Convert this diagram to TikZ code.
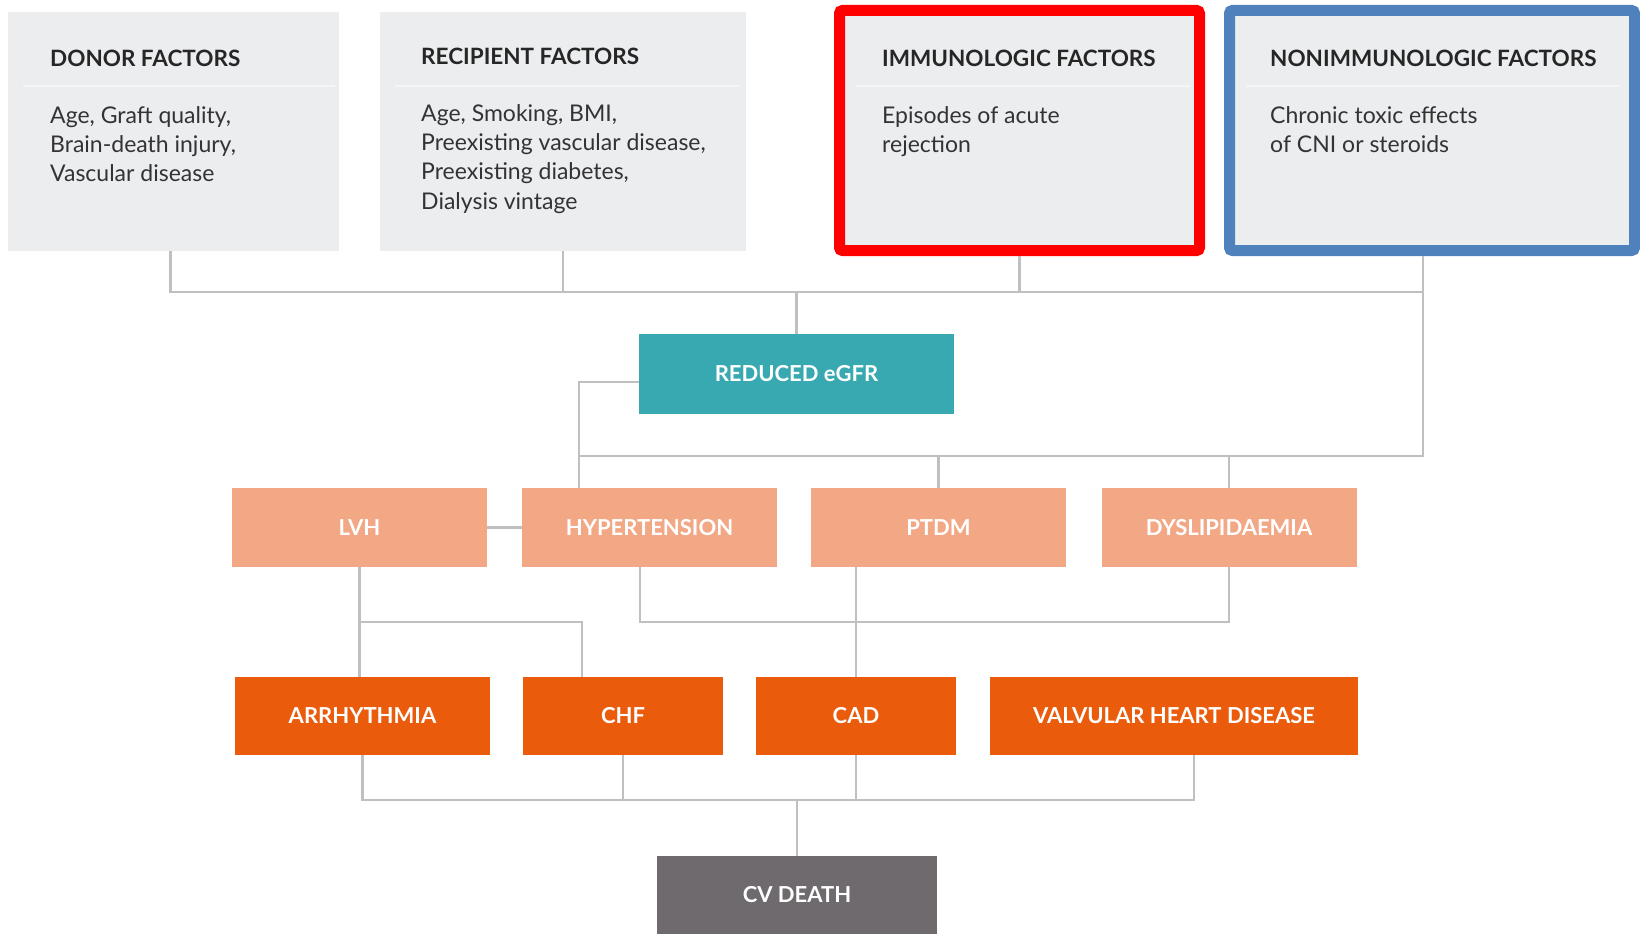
\documentclass[tikz,border=0pt]{standalone}
\usepackage{fontspec}
\setmainfont{Lato}
\usetikzlibrary{positioning, calc}
\definecolor{boxgrey}{RGB}{236,237,239}
\definecolor{sepgrey}{RGB}{245,245,246}
\definecolor{linegrey}{RGB}{192,192,192}
\definecolor{egfrteal}{RGB}{56,169,177}
\definecolor{riskpeach}{RGB}{242,167,133}
\definecolor{cvorange}{RGB}{234,91,12}
\definecolor{deathgrey}{RGB}{111,106,109}
\definecolor{immred}{RGB}{255,0,0}
\definecolor{nonimmblue}{RGB}{79,129,189}

\begin{document}
\begin{tikzpicture}[x=1pt, y=-1pt,
        % --- factor boxes on top ---
        factorbox/.style={
            fill=boxgrey, anchor=north west, inner sep=0pt,
            minimum height=239
        },
        framedbox/.style={
            factorbox, line width=11, rounded corners=3,
            minimum height=240
        },
        factortitle/.style={
            anchor=west, inner sep=0pt, text=black!85,
            font=\bfseries\fontsize{22.5}{25}\selectfont
        },
        factortext/.style={
            anchor=north west, inner sep=0pt, align=left, text=black!80,
            font=\fontsize{23}{29.3}\selectfont
        },
        sepline/.style={draw=sepgrey, line width=1.5},
        % --- coloured boxes ---
        flowbox/.style={
            minimum height=79, inner sep=0pt, text=white,
            font=\bfseries\fontsize{22}{25}\selectfont
        },
        egfrbox/.style={flowbox, fill=egfrteal, minimum height=80},
        riskbox/.style={flowbox, fill=riskpeach, minimum width=255},
        cvbox/.style={flowbox, fill=cvorange, minimum height=78},
        deathbox/.style={flowbox, fill=deathgrey, minimum height=78},
        % --- connectors ---
        conn/.style={draw=linegrey, line width=2.5}
    ]

    \useasboundingbox (0,0) rectangle (1640,934);
    \fill[white] (0,0) rectangle (1640,934);

    % ==========================================
    % FACTORS
    % ==========================================
    \node[factorbox, minimum width=331] (donor) at (8,12) {};
    \node[factorbox, minimum width=366] (recip) at (380,12) {};
    \node[framedbox, draw=immred, minimum width=360] (immuno) at (834,5) {};
    \node[framedbox, draw=nonimmblue, minimum width=405] (nonimm) at (1224,5) {};

    \draw[sepline] (23,86) -- (335,86);
    \draw[sepline] (395,86) -- (740,86);
    \draw[sepline] (856,86) -- (1190,86);
    \draw[sepline] (1246,86) -- (1620,86);

    \node[factortitle] (donortitle) at (50,58) {DONOR FACTORS};
    \node[factortext] (donortext) at (50,106) {Age, Graft quality,\\Brain-death injury,\\Vascular disease};

    \node[factortitle] (reciptitle) at (421,56) {RECIPIENT FACTORS};
    \node[factortext] (reciptext) at (421,104) {Age, Smoking, BMI,\\Preexisting vascular disease,\\Preexisting diabetes,\\Dialysis vintage};

    \node[factortitle] (immunotitle) at (882,58) {IMMUNOLOGIC FACTORS};
    \node[factortext] (immunotext) at (882,106) {Episodes of acute\\rejection};

    \node[factortitle] (nonimmtitle) at (1270,58) {NONIMMUNOLOGIC FACTORS};
    \node[factortext] (nonimmtext) at (1270,106) {Chronic toxic effects\\of CNI or steroids};

    % ==========================================
    % REDUCED eGFR AND RISK FACTORS
    % ==========================================
    \node[egfrbox, minimum width=315] (egfr) at (796.5,374) {REDUCED eGFR};

    \node[riskbox] (lvh) at (359.5,527.5) {LVH};
    \node[riskbox] (hyp) at (649.5,527.5) {HYPERTENSION};
    \node[riskbox] (ptdm) at (938.5,527.5) {PTDM};
    \node[riskbox] (dys) at (1229,527.5) {DYSLIPIDAEMIA};

    % ==========================================
    % CARDIOVASCULAR DISEASE
    % ==========================================
    \node[cvbox, minimum width=255] (arr) at (362.5,716) {ARRHYTHMIA};
    \node[cvbox, minimum width=200] (chf) at (623,716) {CHF};
    \node[cvbox, minimum width=200] (cad) at (856,716) {CAD};
    \node[cvbox, minimum width=368] (val) at (1174,716) {VALVULAR HEART DISEASE};

    \node[deathbox, minimum width=280] (death) at (797,895) {CV DEATH};

    % ==========================================
    % CONNECTORS
    % ==========================================
    \coordinate (topbus) at (797,292);
    \coordinate (riskbus) at (579,456);
    \coordinate (lvhbranch) at (582,622);
    \coordinate (hypbranch) at (640,622);
    \coordinate (deathbus) at (797,800);
    \coordinate (egfrtap) at ($(egfr.west)+(0,8)$);
    \coordinate (donordrop) at ($(donor.south)+(-3,0)$);
    \coordinate (nonimmdrop) at ($(nonimm.south)+(-9,0)$);
    \coordinate (valdrop) at ($(val.south)+(20,0)$);

    \draw[conn] (donordrop) |- (topbus) -| (nonimmdrop);
    \draw[conn] (recip.south) -- (recip.south |- topbus);
    \draw[conn] (immuno.south) -- (immuno.south |- topbus);
    \draw[conn] (egfr.north) -- (egfr.north |- topbus);
    \draw[conn] (nonimmdrop) |- (riskbus);

    \draw[conn] (egfrtap) -| (riskbus) -- (riskbus |- hyp.north);
    \draw[conn] (ptdm.north) -- (ptdm.north |- riskbus);
    \draw[conn] (dys.north) -- (dys.north |- riskbus);
    \draw[conn] (lvh) -- (hyp);

    \draw[conn] (lvh.south) -- (lvh.south |- arr.north);
    \draw[conn] (lvh.south |- lvhbranch) -- (lvhbranch) -- (lvhbranch |- chf.north);
    \draw[conn] (hypbranch |- hyp.south) -- (hypbranch) -| (dys.south);
    \draw[conn] (ptdm.south -| cad.north) -- (cad.north);

    \draw[conn] (arr.south) |- (valdrop |- deathbus) -- (valdrop);
    \draw[conn] (chf.south) -- (chf.south |- deathbus);
    \draw[conn] (cad.south) -- (cad.south |- deathbus);
    \draw[conn] (death.north |- deathbus) -- (death.north);

\end{tikzpicture}
\end{document}
